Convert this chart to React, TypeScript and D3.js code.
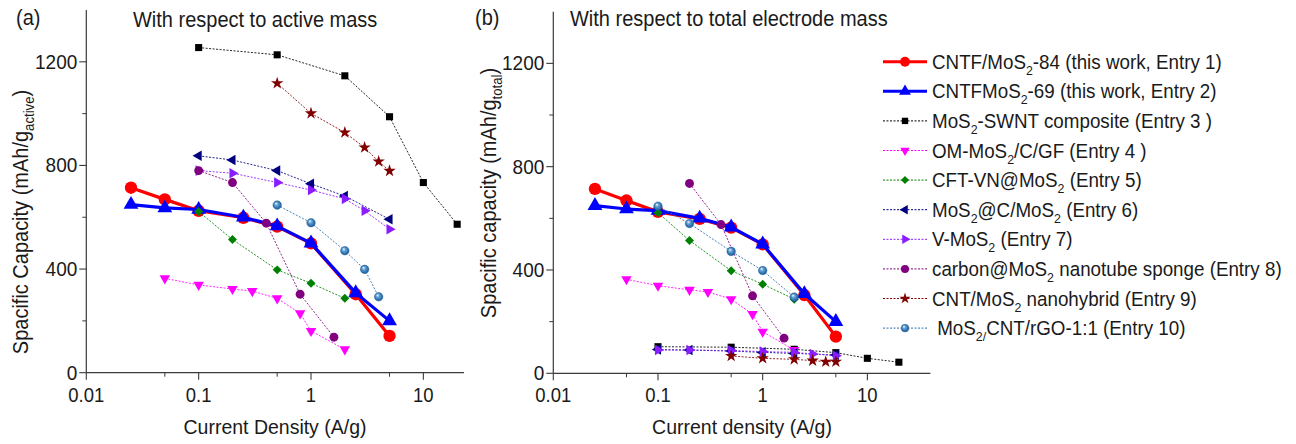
import React from 'react';
import * as d3 from 'd3';

// ---------- data ----------
// Entry 1 / Entry 2 (this work) — same in both panels
const e1X = [0.025, 0.05, 0.1, 0.25, 0.5, 1, 2.5, 5];
const e1Y = [714, 669, 625, 598, 564, 499, 303, 142];
const e2X = [0.025, 0.05, 0.1, 0.25, 0.5, 1, 2.5, 5];
const e2Y = [649, 636, 630, 600, 566, 500, 308, 200];

// Panel (a): with respect to active mass
const aE3X = [0.1, 0.5, 2, 5, 10, 20];
const aE3Y = [1255, 1227, 1146, 988, 734, 573];
const aE4X = [0.05, 0.1, 0.2, 0.3, 0.5, 0.8, 1, 2];
const aE4Y = [364, 339, 323, 315, 287, 229, 161, 90];
const aE5X = [0.1, 0.2, 0.5, 1, 2];
const aE5Y = [622, 514, 397, 345, 287];
const aE6X = [0.1, 0.2, 0.5, 1, 2, 5];
const aE6Y = [837, 821, 780, 729, 682, 592];
const aE7X = [0.1, 0.2, 0.5, 1, 2, 3, 5];
const aE7Y = [780, 770, 734, 705, 671, 625, 554];
const aE8X = [0.1, 0.2, 0.4, 0.8, 1.6];
const aE8Y = [780, 734, 577, 303, 137];
const aE9X = [0.5, 1, 2, 3, 4, 5];
const aE9Y = [1117, 1001, 927, 869, 815, 779];
const aE10X = [0.5, 1, 2, 3, 4];
const aE10Y = [647, 579, 471, 399, 293];

// Panel (b): with respect to total electrode mass
const bE3X = [0.1, 0.5, 2, 5, 10, 20];
const bE3Y = [103, 101, 93, 80, 58, 43];
const bE4X = [0.05, 0.1, 0.2, 0.3, 0.5, 0.8, 1, 2];
const bE4Y = [364, 339, 323, 315, 287, 229, 161, 90];
const bE5X = [0.1, 0.2, 0.5, 1, 2];
const bE5Y = [622, 514, 397, 345, 287];
const bE6X = [0.1, 0.2, 0.5, 1, 2, 5];
const bE6Y = [92, 90, 86, 81, 77, 71];
const bE7X = [0.1, 0.2, 0.5, 1, 2, 3, 5];
const bE7Y = [90, 90, 88, 84, 81, 75, 68];
const bE8X = [0.2, 0.4, 0.8, 1.6];
const bE8Y = [735, 576, 300, 136];
const bE9X = [0.5, 1, 2, 3, 4, 5];
const bE9Y = [67, 58, 54, 49, 45, 45];
const bE10X = [0.1, 0.2, 0.5, 1, 2];
const bE10Y = [647, 580, 472, 398, 295];

const xMajorTicks = [0.01, 0.1, 1, 10];
const xMinorTicks = [0.05, 0.5, 5];
const yMajorTicks = [0, 400, 800, 1200];
const yMinorTicks = [200, 600, 1000];

const legendLabels = [
  'CNTF/MoS_{2}-84 (this work, Entry 1)',
  'CNTFMoS_{2}-69 (this work, Entry 2)',
  'MoS_{2}-SWNT composite (Entry 3 )',
  'OM-MoS_{2}/C/GF (Entry 4 )',
  'CFT-VN@MoS_{2} (Entry 5)',
  'MoS_{2}@C/MoS_{2} (Entry 6)',
  'V-MoS_{2} (Entry 7)',
  'carbon@MoS_{2} nanotube sponge (Entry 8)',
  'CNT/MoS_{2} nanohybrid (Entry 9)',
  ' MoS_{2/}CNT/rGO-1:1 (Entry 10)',
];

// ---------- styles ----------
type Style = {
  color: string; width: number; dash?: string; shape: d3.SymbolType | 'ball';
  size: number; rotate?: number; fill?: string;
};
const styles: Style[] = [
  { color: '#ff0000', width: 3.2, shape: d3.symbolCircle, size: 120 },
  { color: '#0000ff', width: 3.2, shape: d3.symbolTriangle, size: 95 },
  { color: '#000000', width: 1, dash: '2,1.5', shape: d3.symbolSquare, size: 50 },
  { color: '#ff00ff', width: 1, dash: '2,1.5', shape: d3.symbolTriangle, size: 48, rotate: 180 },
  { color: '#008000', width: 1, dash: '2,1.5', shape: d3.symbolSquare, size: 40, rotate: 45 },
  { color: '#000080', width: 1, dash: '2,1.5', shape: d3.symbolTriangle, size: 48, rotate: -90 },
  { color: '#8a1cff', width: 1, dash: '2,1.5', shape: d3.symbolTriangle, size: 48, rotate: 90 },
  { color: '#800080', width: 1, dash: '2,1.5', shape: d3.symbolCircle, size: 62 },
  { color: '#800000', width: 1, dash: '2,1.5', shape: d3.symbolStar, size: 48 },
  { color: '#2a6fae', width: 1, dash: '2,1.5', shape: 'ball', size: 4.3 },
];

const FONT = 'Arial, "Liberation Sans", Helvetica, sans-serif';
const TXT = '#1a1a1a';
const AX = '#3a3a3a';
const VS = 1.08; // vertical stretch of glyphs in the reference

function rich(s: string, fs: number) {
  const parts = s.split(/(_\{[^}]*\})/).filter((p) => p.length > 0);
  const out: React.ReactNode[] = [];
  const shift = fs * 0.3;
  let shifted = false;
  parts.forEach((p, i) => {
    if (p.startsWith('_{')) {
      out.push(
        <tspan key={i} fontSize={fs * 0.66} dy={shift}>{p.slice(2, -1)}</tspan>
      );
      shifted = true;
    } else {
      out.push(
        <tspan key={i} dy={shifted ? -shift : 0}>{p}</tspan>
      );
      shifted = false;
    }
  });
  return out;
}

function T({ x, y, rot = 0, anchor = 'start', fs, children }:
  { x: number; y: number; rot?: number; anchor?: string; fs: number; children: React.ReactNode }) {
  return (
    <g transform={`translate(${x},${y}) rotate(${rot}) scale(1,${VS})`}>
      <text x={0} y={0} textAnchor={anchor as any} fontSize={fs} fill={TXT} fontFamily={FONT}
        style={{ whiteSpace: 'pre' }}>{children}</text>
    </g>
  );
}

function Marker({ st, cx, cy, scale = 1 }: { st: Style; cx: number; cy: number; scale?: number }) {
  if (st.shape === 'ball') {
    return <circle cx={cx} cy={cy} r={st.size * scale} fill="url(#ballGrad)" stroke="#1d5a92" strokeWidth={0.4} />;
  }
  const path = d3.symbol().type(st.shape as d3.SymbolType).size(st.size * scale * scale)() || '';
  return (
    <path d={path} transform={`translate(${cx},${cy}) rotate(${st.rotate || 0})`} fill={st.fill || st.color} />
  );
}

type PanelProps = {
  x0: number; x1: number; xMax: number; yBottom: number; yTop: number;
  series: { xs: number[]; ys: number[]; st: Style }[];
};

function Panel({ x0, x1, xMax, yBottom, yTop, series }: PanelProps) {
  const x = d3.scaleLog().domain([0.01, xMax]).range([x0, x1]);
  const y = d3.scaleLinear().domain([0, 1400]).range([yBottom, yTop]);
  const line = d3.line<[number, number]>().x((d) => x(d[0])).y((d) => y(d[1]));
  return (
    <g>
      {/* axes */}
      <line x1={x0} x2={x1} y1={yBottom} y2={yBottom} stroke={AX} strokeWidth={1.2} />
      <line x1={x0} x2={x0} y1={yBottom} y2={yTop} stroke={AX} strokeWidth={1.2} />
      {xMajorTicks.map((t) => (
        <g key={'xm' + t}>
          <line x1={x(t)} x2={x(t)} y1={yBottom} y2={yBottom + 7} stroke={AX} strokeWidth={1.1} />
          <T x={x(t)} y={yBottom + 29} anchor="middle" fs={18.5}>{String(t)}</T>
        </g>
      ))}
      {xMinorTicks.map((t) => (
        <line key={'xn' + t} x1={x(t)} x2={x(t)} y1={yBottom} y2={yBottom + 4} stroke={AX} strokeWidth={1} />
      ))}
      {yMajorTicks.map((t) => (
        <g key={'ym' + t}>
          <line x1={x0 - 7} x2={x0} y1={y(t)} y2={y(t)} stroke={AX} strokeWidth={1.1} />
          <T x={x0 - 9} y={y(t) + 7} anchor="end" fs={19}>{String(t)}</T>
        </g>
      ))}
      {yMinorTicks.map((t) => (
        <line key={'yn' + t} x1={x0 - 4} x2={x0} y1={y(t)} y2={y(t)} stroke={AX} strokeWidth={1} />
      ))}
      {/* series */}
      {series.map((s, i) => {
        const pts = s.xs.map((v, j) => [v, s.ys[j]] as [number, number]);
        return (
          <g key={i}>
            <path d={line(pts) || ''} fill="none" stroke={s.st.color} strokeWidth={s.st.width}
              strokeDasharray={s.st.dash} strokeLinejoin="round" opacity={s.st.dash ? 0.85 : 1} />
            {pts.map((p, j) => (
              <Marker key={j} st={s.st} cx={x(p[0])} cy={y(p[1])} />
            ))}
          </g>
        );
      })}
    </g>
  );
}

export default function App() {
  const seriesA = [
    { xs: e1X, ys: e1Y, st: styles[0] },
    { xs: e2X, ys: e2Y, st: styles[1] },
    { xs: aE3X, ys: aE3Y, st: styles[2] },
    { xs: aE4X, ys: aE4Y, st: styles[3] },
    { xs: aE5X, ys: aE5Y, st: styles[4] },
    { xs: aE6X, ys: aE6Y, st: styles[5] },
    { xs: aE7X, ys: aE7Y, st: styles[6] },
    { xs: aE8X, ys: aE8Y, st: styles[7] },
    { xs: aE9X, ys: aE9Y, st: styles[8] },
    { xs: aE10X, ys: aE10Y, st: styles[9] },
  ];
  const seriesB = [
    { xs: e1X, ys: e1Y, st: styles[0] },
    { xs: e2X, ys: e2Y, st: styles[1] },
    { xs: bE3X, ys: bE3Y, st: styles[2] },
    { xs: bE4X, ys: bE4Y, st: styles[3] },
    { xs: bE5X, ys: bE5Y, st: styles[4] },
    { xs: bE6X, ys: bE6Y, st: styles[5] },
    { xs: bE7X, ys: bE7Y, st: styles[6] },
    { xs: bE8X, ys: bE8Y, st: styles[7] },
    { xs: bE9X, ys: bE9Y, st: styles[8] },
    { xs: bE10X, ys: bE10Y, st: styles[9] },
  ];
  const legendY0 = 61.7;
  const legendDy = 29.6;
  return (
    <svg width={1296} height={444} style={{ position: 'absolute', left: 0, top: 0, background: '#fff' }}
      fontFamily={FONT}>
      <defs>
        <radialGradient id="ballGrad" cx="0.5" cy="0.5" r="0.6" fx="0.35" fy="0.3">
          <stop offset="0" stopColor="#ffffff" />
          <stop offset="0.3" stopColor="#6aa6d6" />
          <stop offset="0.7" stopColor="#2a6fae" />
          <stop offset="1" stopColor="#17508a" />
        </radialGradient>
      </defs>
      <rect x={0} y={0} width={1296} height={444} fill="#fff" />

      {/* panel titles */}
      <T x={16} y={25} fs={20}>(a)</T>
      <T x={133} y={26.5} fs={20}>With respect to active mass</T>
      <T x={475} y={25} fs={20}>(b)</T>
      <T x={570} y={26} fs={20}>With respect to total electrode mass</T>

      <Panel x0={86.3} x1={464} xMax={23} yBottom={372.7} yTop={10} series={seriesA} />
      <Panel x0={553.3} x1={930.4} xMax={40} yBottom={373.3} yTop={11.7} series={seriesB} />

      {/* axis titles */}
      <T x={275} y={434} anchor="middle" fs={19.5}>Current Density (A/g)</T>
      <T x={742} y={434} anchor="middle" fs={19.5}>Current density (A/g)</T>
      <T x={27.5} y={222} rot={-90} anchor="middle" fs={20}>
        {rich('Spacific Capacity (mAh/g_{active})', 20)}
      </T>
      <T x={496} y={193} rot={-90} anchor="middle" fs={20}>
        {rich('Spacific capacity (mAh/g_{total})', 20)}
      </T>

      {/* legend */}
      {legendLabels.map((lab, i) => {
        const st = styles[i];
        const yy = legendY0 + i * legendDy;
        return (
          <g key={i}>
            <line x1={883} x2={927} y1={yy} y2={yy} stroke={st.color} strokeWidth={st.dash ? 1 : 3}
              strokeDasharray={st.dash} />
            <Marker st={st} cx={905} cy={yy} scale={st.dash ? 0.9 : 0.8} />
            <T x={932} y={yy + 7} fs={18.8}>{rich(lab, 18.8)}</T>
          </g>
        );
      })}
    </svg>
  );
}
